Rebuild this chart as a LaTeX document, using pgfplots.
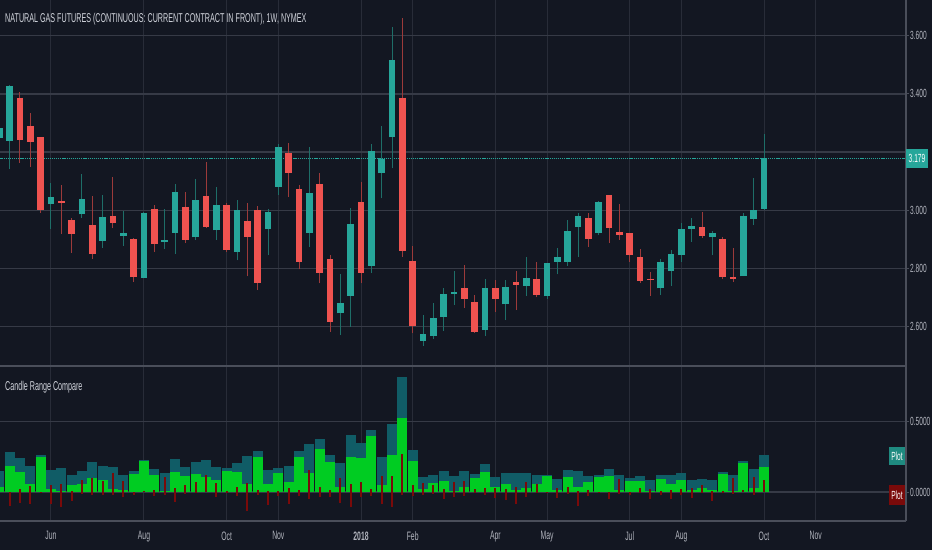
\documentclass[border=0pt]{standalone}
\usepackage{pgfplots}
\pgfplotsset{compat=1.18}
\usepackage{pgfplotstable}
\usepackage{fontspec}
\setmainfont{Liberation Sans}[FakeStretch=0.56]
\definecolor{bg}{HTML}{131722}
\definecolor{gridv}{HTML}{282C38}
\definecolor{gridh}{HTML}{363A46}
\definecolor{upc}{HTML}{26A69A}
\definecolor{dnc}{HTML}{EF5350}
\definecolor{upw}{HTML}{1E6E68}
\definecolor{dnw}{HTML}{9C3A3A}
\definecolor{rng}{HTML}{105C66}
\definecolor{bodyg}{HTML}{00CC22}
\definecolor{wk}{HTML}{7A0A0A}
\definecolor{txt}{HTML}{B2B5BE}
\definecolor{ttl}{HTML}{D1D4DC}
\definecolor{border}{HTML}{4A4E5A}
\definecolor{plotteal}{HTML}{1F8A80}
\definecolor{plotred}{HTML}{7A0A0A}

% weekly candles, index 0 = week of 1 May 2017
\pgfplotstableread{
i o h l c
0 3.248 3.313 3.166 3.283
1 3.239 3.430 3.142 3.427
5 3.021 3.095 2.935 3.045
8 2.986 3.124 2.975 3.040
10 2.895 3.053 2.871 2.977
12 2.911 2.998 2.878 2.922
14 2.768 2.995 2.766 2.990
16 2.891 3.004 2.867 2.898
17 2.923 3.089 2.851 3.063
19 2.907 3.109 2.898 3.036
21 2.931 3.079 2.899 3.017
23 2.856 3.036 2.828 3.001
26 2.935 3.003 2.846 2.994
27 3.081 3.227 3.053 3.219
30 2.922 3.219 2.875 3.060
33 2.646 2.780 2.571 2.680
34 2.706 3.009 2.600 2.953
36 2.809 3.227 2.784 3.205
37 3.127 3.290 3.041 3.176
38 3.251 3.629 3.144 3.516
41 2.552 2.640 2.534 2.575
42 2.568 2.680 2.557 2.630
43 2.634 2.732 2.586 2.712
44 2.713 2.791 2.675 2.718
47 2.588 2.764 2.568 2.732
49 2.677 2.760 2.623 2.736
51 2.740 2.841 2.706 2.768
53 2.704 2.820 2.696 2.820
54 2.823 2.871 2.780 2.840
55 2.823 2.967 2.809 2.930
56 2.942 2.990 2.840 2.980
58 2.922 3.033 2.915 3.030
64 2.732 2.833 2.709 2.823
65 2.791 2.864 2.741 2.851
66 2.846 2.957 2.823 2.935
67 2.935 2.974 2.892 2.946
69 2.907 2.930 2.845 2.922
72 2.773 2.992 2.773 2.981
73 2.970 3.111 2.949 3.001
74 3.004 3.262 3.001 3.179
}\upT
\pgfplotstableread{
i o h l c
2 3.387 3.408 3.164 3.242
3 3.290 3.333 3.148 3.234
4 3.251 3.253 2.991 3.001
6 3.032 3.087 2.918 3.025
7 2.966 2.973 2.854 2.919
9 2.948 3.049 2.832 2.851
11 2.981 3.115 2.938 2.957
13 2.902 2.905 2.753 2.772
15 3.004 3.018 2.856 2.883
18 3.012 3.062 2.887 2.898
20 3.049 3.167 2.939 2.942
22 3.017 3.026 2.856 2.864
24 2.962 3.026 2.773 2.907
25 3.001 3.016 2.726 2.749
28 3.198 3.230 3.045 3.127
29 3.072 3.087 2.797 2.823
31 3.091 3.127 2.749 2.784
32 2.832 2.846 2.583 2.617
35 3.027 3.096 2.749 2.786
39 3.387 3.660 2.841 2.861
40 2.827 2.878 2.577 2.603
45 2.732 2.811 2.665 2.694
46 2.684 2.709 2.579 2.583
48 2.732 2.760 2.652 2.694
50 2.753 2.791 2.657 2.742
52 2.764 2.822 2.701 2.708
57 2.973 2.990 2.875 2.902
59 3.053 3.054 2.887 2.938
60 2.925 3.021 2.898 2.914
61 2.922 2.922 2.823 2.846
62 2.838 2.867 2.751 2.757
63 2.764 2.788 2.706 2.759
68 2.942 2.994 2.904 2.912
70 2.902 2.907 2.763 2.772
71 2.772 2.871 2.753 2.765
}\dnT

\pgfplotsset{
  tvaxis/.style={
    scale only axis, width=906pt,
    xmin=0.065, xmax=87.74,
    axis line style={draw=none},
    xtick={5,14,22,27,35,40,48,53,61,66,74,79},
    xmajorgrids, ymajorgrids,
    x grid style={gridv, line width=1pt},
    y grid style={gridh, line width=1.4pt},
    ytick pos=right, yticklabel pos=right,
    tick align=outside, major tick length=3pt,
    ytick style={border, line width=1pt},
    xtick style={draw=none},
    yticklabel style={font=\fontsize{11.8}{12}\selectfont, text=txt, anchor=west, inner sep=0pt, xshift=1pt},
  },
  wick/.style={no markers, line width=1pt, forget plot,
    quiver={u=0, v=\thisrow{h}-\thisrow{l}}},
  body/.style={no markers, line width=6.5pt, forget plot,
    quiver={u=0, v=\thisrow{c}-\thisrow{o}}},
}

\begin{document}
\begin{tikzpicture}
\fill[bg] (0,0) rectangle (932pt,550pt);

% ---------------- price pane ----------------
\begin{axis}[tvaxis,
  at={(0pt,185pt)}, anchor=south west, height=365pt,
  ymin=2.4684, ymax=3.7227,
  xticklabels={},
  ytick={2.6,2.8,3.0,3.2,3.4,3.6},
  yticklabels={2.600,2.800,3.000,,3.400,3.600},
]
\addplot[upc, line width=1.3pt, dash pattern=on 1.2pt off 0.9pt, forget plot] coordinates {(0,3.179) (88,3.179)};
\addplot[upw, wick] table[x=i, y=l] {\upT};
\addplot[dnw, wick] table[x=i, y=l] {\dnT};
\addplot[upc, body] table[x=i, y=o] {\upT};
\addplot[dnc, body] table[x=i, y=o] {\dnT};
\end{axis}

% ---------------- indicator pane ----------------
\begin{axis}[tvaxis,
  at={(0pt,29pt)}, anchor=south west, height=154pt,
  ymin=-0.206, ymax=0.889,
  xticklabels={Jun,Aug,Oct,Nov,\textbf{2018},Feb,Apr,May,Jul,Aug,Oct,Nov},
  xticklabel style={font=\fontsize{12.2}{12}\selectfont, text=txt, yshift=-4pt},
  ytick={0,0.5},
  yticklabels={0.0000,0.5000},
]
\addplot[rng, no markers, line width=9.8pt, quiver={u=0, v=\thisrow{h}-\thisrow{l}}] table[x=i, y expr=0] {\upT};
\addplot[rng, no markers, line width=9.8pt, quiver={u=0, v=\thisrow{h}-\thisrow{l}}] table[x=i, y expr=0] {\dnT};
\addplot[bodyg, no markers, line width=9.8pt, quiver={u=0, v=abs(\thisrow{c}-\thisrow{o})}] table[x=i, y expr=0] {\upT};
\addplot[bodyg, no markers, line width=9.8pt, quiver={u=0, v=abs(\thisrow{c}-\thisrow{o})}] table[x=i, y expr=0] {\dnT};
\addplot[wk, no markers, line width=2pt, quiver={u=0, v=\thisrow{h}-\thisrow{l}-abs(\thisrow{c}-\thisrow{o})}] table[x=i, y expr={\thisrow{l}-min(\thisrow{o},\thisrow{c})}] {\upT};
\addplot[wk, no markers, line width=2pt, quiver={u=0, v=\thisrow{h}-\thisrow{l}-abs(\thisrow{c}-\thisrow{o})}] table[x=i, y expr={\thisrow{l}-min(\thisrow{o},\thisrow{c})}] {\dnT};
\end{axis}

% pane borders
\draw[border, line width=2pt] (0,184pt) -- (906pt,184pt);
\draw[border, line width=1.2pt] (906pt,29pt) -- (906pt,550pt);
\draw[border, line width=1.2pt] (0,29pt) -- (906pt,29pt);

% texts
\node[anchor=west, inner sep=0pt, text=ttl, font=\fontsize{12.8}{13}\selectfont] at (5pt,530.5pt) {NATURAL GAS FUTURES (CONTINUOUS: CURRENT CONTRACT IN FRONT), 1W, NYMEX};
\node[anchor=west, inner sep=0pt, text=ttl, font=\fontsize{12.8}{13}\selectfont] at (5pt,163.3pt) {Candle Range Compare};

% last value labels
\node[fill=upc, text=white, inner sep=0pt, minimum width=22pt, minimum height=19pt, font=\fontsize{11.8}{12}\selectfont] at (917pt,391.2pt) {3.179};
\node[fill=plotteal, text=white, inner sep=0pt, minimum width=16pt, minimum height=18pt, font=\fontsize{11.8}{12}\selectfont] at (897pt,94pt) {Plot};
\node[fill=plotred, text=white, inner sep=0pt, minimum width=16pt, minimum height=20pt, font=\fontsize{11.8}{12}\selectfont] at (897pt,55pt) {Plot};

\pgfresetboundingbox
\useasboundingbox (0,0) rectangle (932pt,550pt);
\end{tikzpicture}
\end{document}
